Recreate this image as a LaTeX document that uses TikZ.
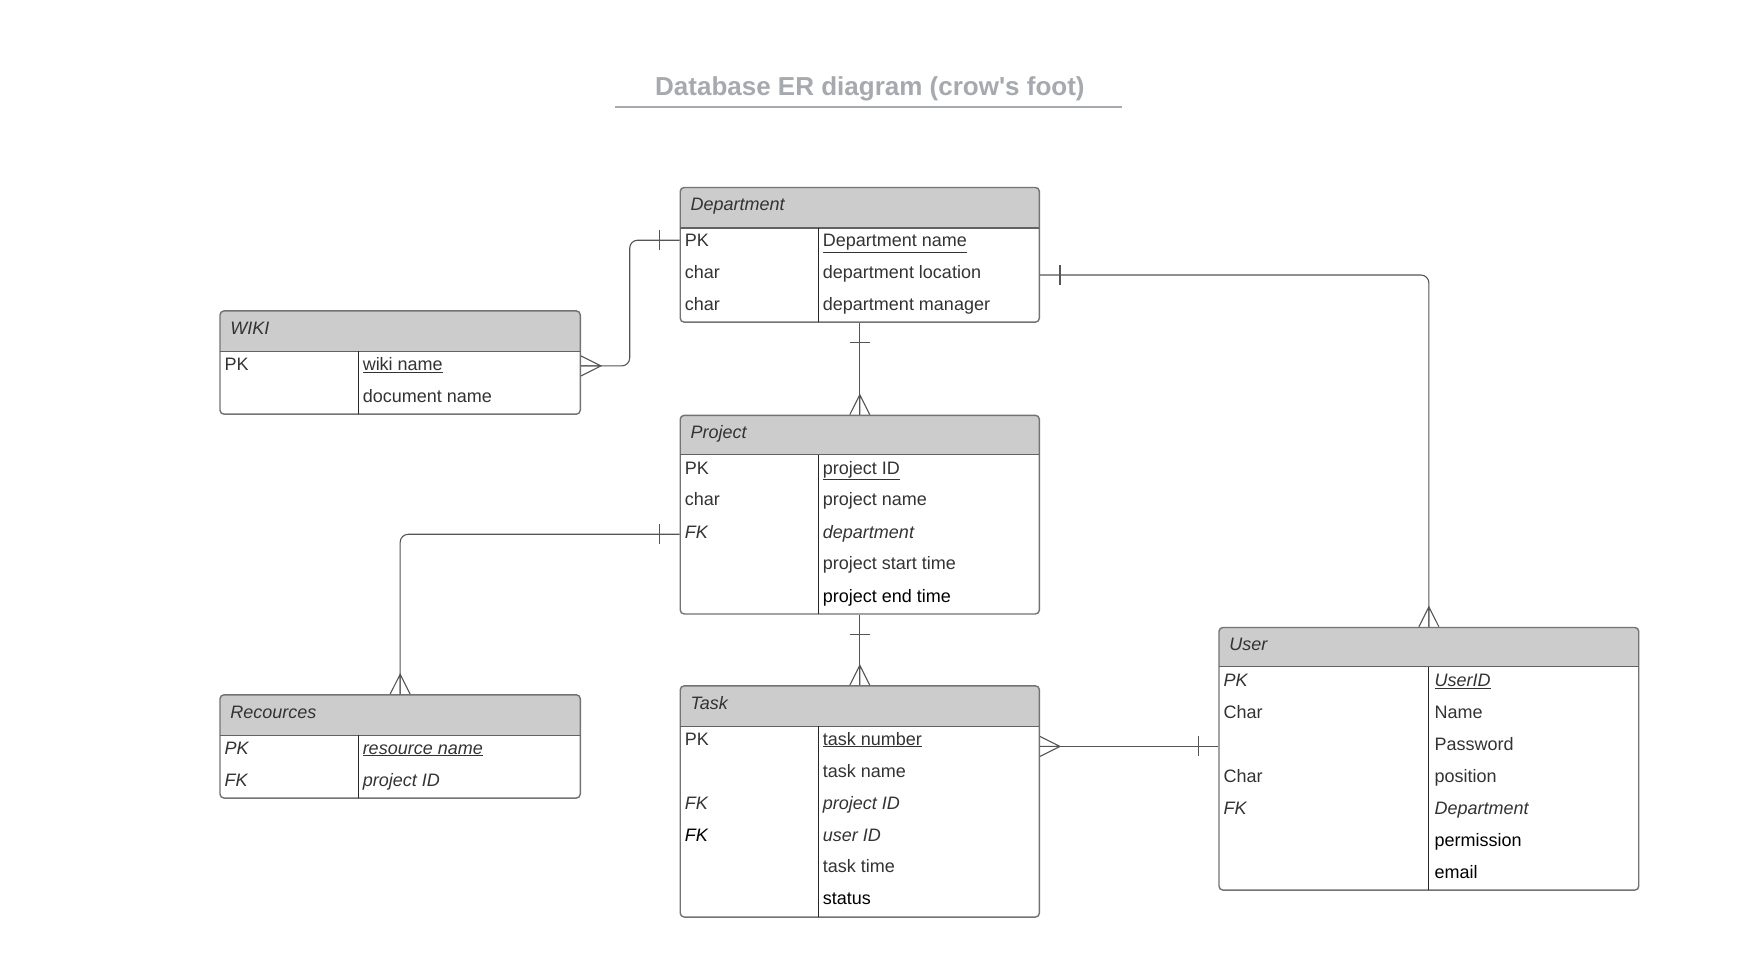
\documentclass[tikz,border=0pt]{standalone}
\usepackage{fontspec}
\setmainfont{Liberation Sans}
\usetikzlibrary{fit}
\definecolor{titlegray}{HTML}{A6A9AE}
\definecolor{boxborder}{HTML}{737373}
\definecolor{headfill}{HTML}{CCCCCC}
\definecolor{txt}{HTML}{333333}
\definecolor{conn}{HTML}{555555}
\tikzset{
  boxframe/.style={draw=boxborder, line width=1.4pt, rounded corners=4, inner sep=0pt},
  headline/.style={draw=boxborder!85!black, line width=1.4pt},
  divline/.style={draw=black!85, line width=1.1pt},
  cell/.style={anchor=west, inner sep=0pt, text height=12.9pt, text depth=0pt, text=txt, font=\fontsize{18}{20}\selectfont},
  cellb/.style={cell, text=black},
  headtxt/.style={cell, font=\fontsize{18}{20}\selectfont\itshape},
  link/.style={draw=conn, line width=1.1pt, rounded corners=8},
  crowfoot/.pic={\draw[draw=conn, line width=1.1pt] (0,-8.9) -- (17.7,0) -- (0,8.9) (0,0) -- (17.7,0);},
  onebar/.pic={\draw[draw=conn, line width=1.1pt] (17.7,-8.9) -- (17.7,8.9);}
}
% #1 name, #2 x1, #3 y1, #4 x2, #5 y2, #6 header bottom, #7 divider x, #8 title
\newcommand\ertable[8]{%
  \fill[headfill] (#2,#6) [rounded corners=4] -- (#2,#3) -- (#4,#3) [sharp corners] -- (#4,#6) -- cycle;
  \node[boxframe, fit={(#2,#3) (#4,#5)}] (#1) {};
  \draw[headline] (#2,#6) -- (#4,#6);
  \draw[divline] (#7,#6) -- (#7,#5);
  \node[headtxt] (#1-h) at ({#2+9},{(#3+#6)/2-3}) {#8};
}
\begin{document}
\begin{tikzpicture}[x=1.1225pt,y=-1.1225pt]
\fill[white] (0,0) rectangle (1568,861.5);
\useasboundingbox (0,0) rectangle (1568,861.5);

% title
\node[font=\fontsize{26}{30}\selectfont\bfseries, text=titlegray, inner sep=0pt] (title) at (775,79) {Database ER diagram (crow\textquotesingle s foot)};
\coordinate (ulA) at (548,95);
\coordinate (ulB) at (1000,95);
\draw[titlegray, line width=2pt] (ulA) -- (ulB);

% Department
\ertable{dept}{606}{167}{926}{287}{203}{729}{Department}
\node[cell] (d1l) at (610,214) {PK};
\node[cell] (d1r) at (733,214) {\underline{Department name}};
\node[cell] (d2l) at (610,242) {char};
\node[cell] (d2r) at (733,242) {department location};
\node[cell] (d3l) at (610,271) {char};
\node[cell] (d3r) at (733,271) {department manager};

% WIKI
\ertable{wiki}{196}{277}{517}{369}{313}{319}{WIKI}
\node[cell] (w1l) at (200,324) {PK};
\node[cell] (w1r) at (323,324) {\underline{wiki name}};
\node[cell] (w2r) at (323,353) {document name};

% Project
\ertable{proj}{606}{370}{926}{547}{405}{729}{Project}
\node[cell] (p1l) at (610,417) {PK};
\node[cell] (p1r) at (733,417) {\underline{project ID}};
\node[cell] (p2l) at (610,445) {char};
\node[cell] (p2r) at (733,445) {project name};
\node[cell] (p3l) at (610,474) {\itshape FK};
\node[cell] (p3r) at (733,474) {\itshape department};
\node[cell] (p4r) at (733,502) {project start time};
\node[cellb] (p5r) at (733,531) {project end time};

% Recources
\ertable{res}{196}{619}{517}{711}{655}{319}{Recources}
\node[cell] (r1l) at (200,666) {\itshape PK};
\node[cell] (r1r) at (323,666) {\itshape\underline{resource name}};
\node[cell] (r2l) at (200,695) {\itshape FK};
\node[cell] (r2r) at (323,695) {\itshape project ID};

% Task
\ertable{task}{606}{611}{926}{817}{647}{729}{Task}
\node[cell] (t1l) at (610,658) {PK};
\node[cell] (t1r) at (733,658) {\underline{task number}};
\node[cell] (t2r) at (733,687) {task name};
\node[cell] (t3l) at (610,715) {\itshape FK};
\node[cell] (t3r) at (733,715) {\itshape project ID};
\node[cellb] (t4l) at (610,744) {\itshape FK};
\node[cell] (t4r) at (733,744) {\itshape user ID};
\node[cell] (t5r) at (733,772) {task time};
\node[cellb] (t6r) at (733,800) {status};

% User
\ertable{user}{1086}{559}{1460}{793}{594}{1273}{User}
\node[cell] (u1l) at (1090,606) {\itshape PK};
\node[cell] (u1r) at (1278,606) {\itshape\underline{UserID}};
\node[cell] (u2l) at (1090,634) {Char};
\node[cell] (u2r) at (1278,634) {Name};
\node[cell] (u3r) at (1278,663) {Password};
\node[cell] (u4l) at (1090,691) {Char};
\node[cell] (u4r) at (1278,691) {position};
\node[cell] (u5l) at (1090,720) {\itshape FK};
\node[cell] (u5r) at (1278,720) {\itshape Department};
\node[cellb] (u6r) at (1278,748) {permission};
\node[cellb] (u7r) at (1278,777) {email};

% connector bends
\coordinate (bendW) at (561,326);
\coordinate (bendR) at (356.5,476);
\coordinate (dpt) at (926,245);
\coordinate (prj) at (606,476);
\coordinate (tsk) at (926,665);

% connectors
\draw[link] (dept.west |- d1l) -| (bendW) -- (wiki.east |- bendW);
\draw[link] (dept.east |- dpt) -| (user.north);
\draw[link] (dept.south) -- (proj.north);
\draw[link] (proj.west |- prj) -| (res.north);
\draw[link] (proj.south) -- (task.north);
\draw[link] (task.east |- tsk) -- (user.west |- tsk);

% ends
\path (dept.west |- d1l) pic[rotate=180] {onebar};
\path (wiki.east |- bendW) pic {crowfoot};
\path (dept.east |- dpt) pic {onebar};
\path (user.north) pic[rotate=90] {crowfoot};
\path (dept.south) pic[rotate=-90] {onebar};
\path (proj.north) pic[rotate=90] {crowfoot};
\path (proj.west |- prj) pic[rotate=180] {onebar};
\path (res.north) pic[rotate=90] {crowfoot};
\path (proj.south) pic[rotate=-90] {onebar};
\path (task.north) pic[rotate=90] {crowfoot};
\path (task.east |- tsk) pic {crowfoot};
\path (user.west |- tsk) pic[rotate=180] {onebar};
\end{tikzpicture}
\end{document}
